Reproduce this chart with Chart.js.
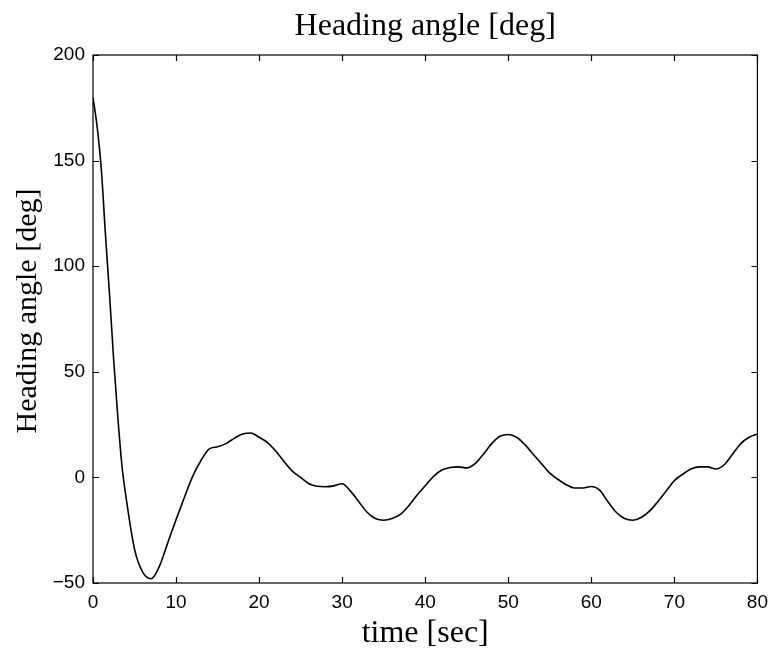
<!DOCTYPE html>
<html>
<head>
<meta charset="utf-8">
<script src="https://cdn.jsdelivr.net/npm/chart.js@4/dist/chart.umd.min.js"></script>
<style>
  html, body { margin: 0; padding: 0; background: #fff; }
  #wrap { width: 776px; height: 653px; }
</style>
</head>
<body>
<div id="wrap"><canvas id="c" width="776" height="653"></canvas></div>
<script>
const chartTitle = 'Heading angle [deg]';
const xTitle = 'time [sec]';
const yTitle = 'Heading angle [deg]';

const timeSec = [0, 0.5, 1, 1.5, 2, 2.5, 3, 3.5, 4, 5, 6, 7, 8, 9, 10, 11, 12, 13, 14, 15, 16, 17, 18, 19, 20,
  21, 22, 23, 24, 25, 26, 27, 28, 29, 30, 31, 32, 33, 34, 35, 36, 37, 38, 39, 40,
  41, 42, 43, 44, 45, 46, 47, 48, 49, 50, 51, 52, 53, 54, 55, 56, 57, 58, 59, 60,
  61, 62, 63, 64, 65, 66, 67, 68, 69, 70, 71, 72, 73, 74, 75, 76, 77, 78, 79, 80];
const headingDeg = [180, 166, 146, 115, 86, 55, 28, 5, -10, -34, -45, -48, -42, -31, -20, -9.5, 0.5, 8, 13.5, 14.5, 16, 18.5, 20.5, 21, 19,
  16.5, 12.5, 7.5, 3, 0, -3, -4.2, -4.4, -4, -3, -6.5, -11.5, -16.5, -19.5, -20.3, -19.5, -17.5, -13.5, -8.5, -4,
  0.5, 3.5, 4.7, 5, 4.5, 6.5, 11, 16, 19.5, 20.3, 19, 15.5, 11, 6.5, 2, -1, -3.5, -5, -5, -4.3,
  -6, -11.5, -16.5, -19.5, -20.3, -19, -16, -11.5, -6.5, -1.5, 1.5, 4, 5, 5, 4, 6, 11, 16, 19, 20.5];

const xTicks = [0, 10, 20, 30, 40, 50, 60, 70, 80];
const yTicks = [-50, 0, 50, 100, 150, 200];

const points = timeSec.map((t, i) => ({ x: t, y: headingDeg[i] }));
const fmt = v => String(v).replace('-', '\u2212');

const boxPlugin = {
  id: 'boxTicks',
  afterDraw(chart) {
    const { ctx, chartArea: a, scales } = chart;
    const L = 6;
    ctx.save();
    ctx.strokeStyle = '#000';
    ctx.lineWidth = 1.2;
    ctx.strokeRect(a.left, a.top, a.right - a.left, a.bottom - a.top);
    ctx.beginPath();
    xTicks.forEach(v => {
      const px = Math.round(scales.x.getPixelForValue(v)) + 0.5;
      ctx.moveTo(px, a.bottom); ctx.lineTo(px, a.bottom - L);
      ctx.moveTo(px, a.top); ctx.lineTo(px, a.top + L);
    });
    yTicks.forEach(v => {
      const py = Math.round(scales.y.getPixelForValue(v)) + 0.5;
      ctx.moveTo(a.left, py); ctx.lineTo(a.left + L, py);
      ctx.moveTo(a.right, py); ctx.lineTo(a.right - L, py);
    });
    ctx.stroke();
    ctx.fillStyle = '#000';
    ctx.textAlign = 'center';
    ctx.textBaseline = 'middle';
    ctx.font = '32px "Liberation Serif", "Times New Roman", serif';
    ctx.fillText(chartTitle, (a.left + a.right) / 2, 27);
    ctx.translate(28, 311);
    ctx.rotate(-Math.PI / 2);
    ctx.font = '30px "Liberation Serif", "Times New Roman", serif';
    ctx.fillText(yTitle, 0, 0);
    ctx.restore();
  }
};

new Chart(document.getElementById('c'), {
  type: 'line',
  data: {
    datasets: [{
      data: points,
      borderColor: '#000',
      borderWidth: 1.6,
      pointRadius: 0,
      fill: false,
      tension: 0.4,
      cubicInterpolationMode: 'monotone'
    }]
  },
  options: {
    responsive: false,
    animation: false,
    devicePixelRatio: 1,
    layout: { padding: { top: 55, right: 16, left: 0, bottom: 0 } },
    plugins: { legend: { display: false }, tooltip: { enabled: false }, title: { display: false } },
    scales: {
      x: {
        type: 'linear',
        min: 0, max: 80,
        afterFit(s) { s.height = 70; },
        afterBuildTicks(s) { s.ticks = xTicks.map(v => ({ value: v })); },
        grid: { display: false, drawTicks: false },
        border: { display: false },
        ticks: { color: '#000', padding: 8, callback: fmt, font: { family: '"Liberation Sans", Arial, sans-serif', size: 19 }, maxRotation: 0, autoSkip: false },
        title: { display: true, text: xTitle, color: '#000', padding: { top: 0, bottom: 0 }, font: { family: '"Liberation Serif", "Times New Roman", serif', size: 32, weight: 'normal' } }
      },
      y: {
        type: 'linear',
        min: -50, max: 200,
        afterFit(s) { s.width = 93; },
        afterBuildTicks(s) { s.ticks = yTicks.map(v => ({ value: v })); },
        grid: { display: false, drawTicks: false },
        border: { display: false },
        ticks: { color: '#000', padding: 8, callback: fmt, font: { family: '"Liberation Sans", Arial, sans-serif', size: 19 }, autoSkip: false },
        title: { display: false }
      }
    }
  },
  plugins: [boxPlugin]
});
</script>
</body>
</html>
